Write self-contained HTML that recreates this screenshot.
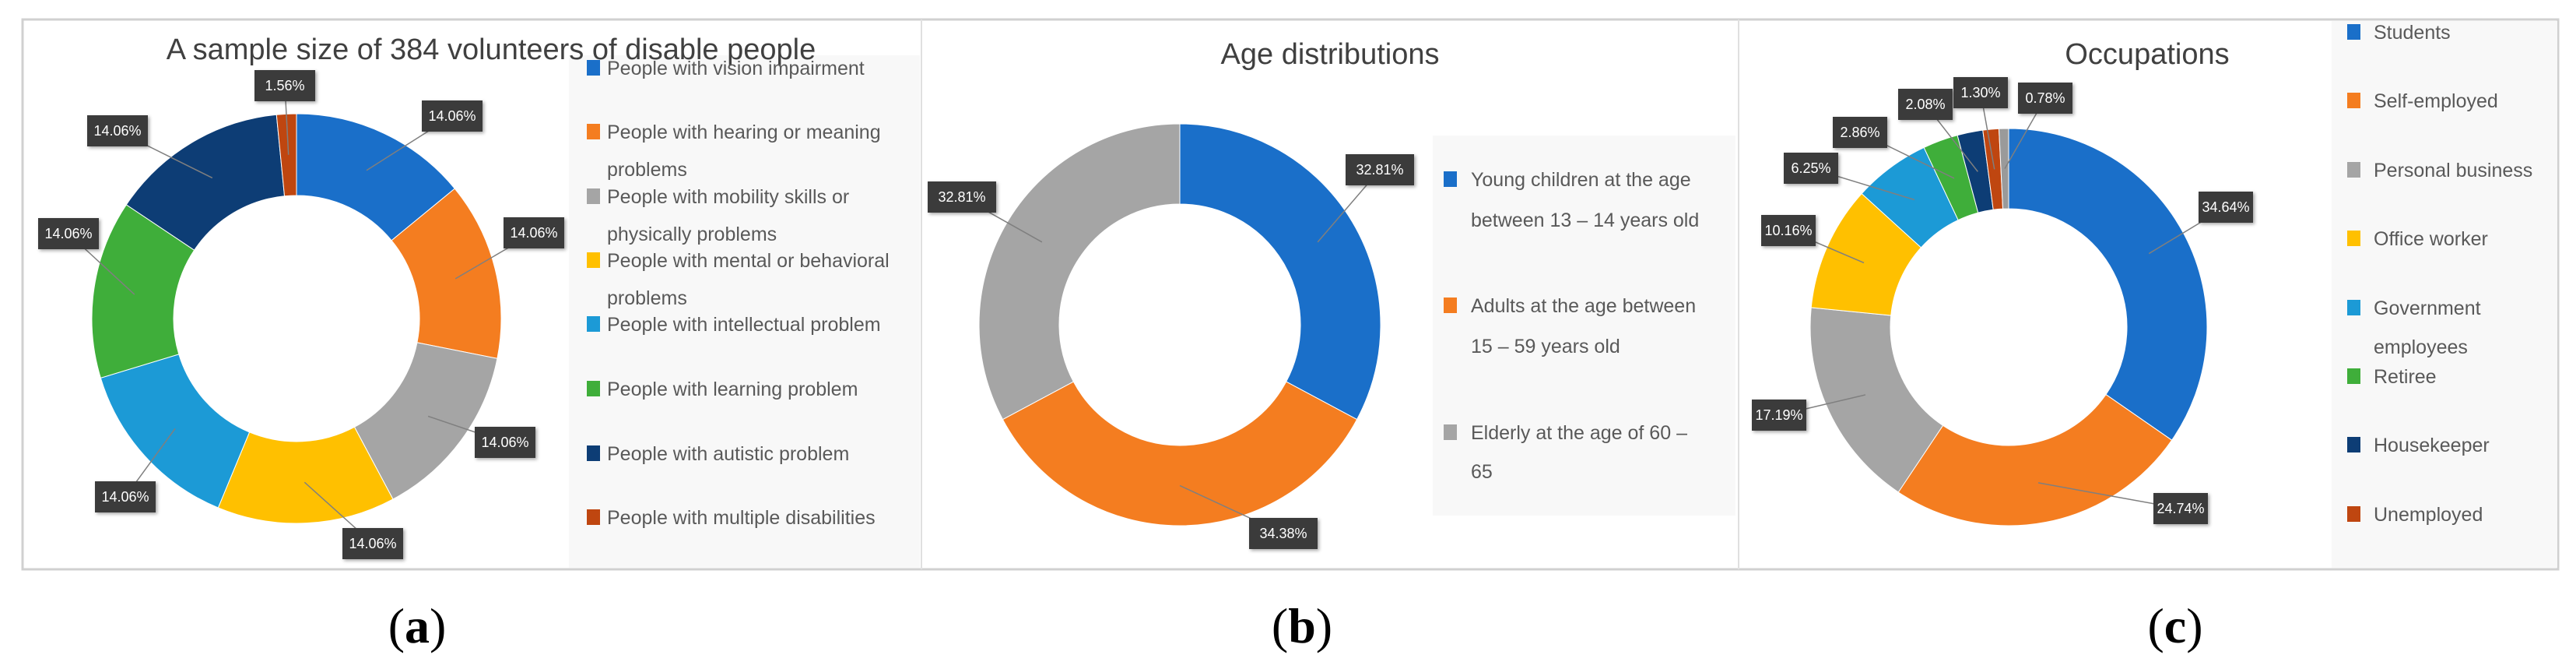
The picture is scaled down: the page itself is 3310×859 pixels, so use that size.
<!DOCTYPE html>
<html><head><meta charset="utf-8">
<style>
body{margin:0;background:#fff;}
svg{display:block;}
.lt{font-family:"Liberation Sans",sans-serif;font-size:25px;fill:#595959;}
.tt{font-family:"Liberation Sans",sans-serif;font-size:38px;fill:#404040;}
.lb{font-family:"Liberation Sans",sans-serif;font-size:18px;fill:#fff;text-anchor:middle;}
.cap{font-family:"Liberation Serif",serif;font-size:64px;fill:#000;text-anchor:middle;}
</style></head>
<body>
<svg id="svg" width="3310" height="859" viewBox="0 0 3310 859">
<defs><filter id="sh" x="-20%" y="-20%" width="150%" height="150%"><feDropShadow dx="2" dy="2" stdDeviation="2" flood-color="#000" flood-opacity="0.35"/></filter></defs>
<rect x="29" y="25" width="3258" height="706" fill="#fff" stroke="#d0d0d0" stroke-width="3"/>
<line x1="1184" y1="25" x2="1184" y2="731" stroke="#e0e0e0" stroke-width="2"/>
<line x1="2234" y1="25" x2="2234" y2="731" stroke="#e0e0e0" stroke-width="2"/>
<rect x="731" y="71" width="451" height="658" fill="#f8f8f8"/>
<rect x="1841" y="174" width="389" height="488" fill="#f8f8f8"/>
<rect x="2996" y="27" width="290" height="702" fill="#f8f8f8"/>
<text class="tt" x="631" y="76" text-anchor="middle">A sample size of 384 volunteers of disable people</text>
<text class="tt" x="1709" y="82" text-anchor="middle">Age distributions</text>
<text class="tt" x="2759" y="82" text-anchor="middle">Occupations</text>
<text class="cap" x="536" y="825">(<tspan font-weight="bold">a</tspan>)</text>
<text class="cap" x="1673" y="825">(<tspan font-weight="bold">b</tspan>)</text>
<text class="cap" x="2795" y="825">(<tspan font-weight="bold">c</tspan>)</text>
</svg>
<script>
const valuesA = [14.06,14.06,14.06,14.06,14.06,14.06,14.06,1.56];
const categoriesA = ["People with vision impairment","People with hearing or meaning|problems","People with mobility skills or|physically problems","People with mental or behavioral|problems","People with intellectual problem","People with learning problem","People with autistic problem","People with multiple disabilities"];
const valuesB = [32.81,34.38,32.81];
const categoriesB = ["Young children at the age|between 13 – 14 years old","Adults at the age between|15 – 59 years old","Elderly at the age of 60 –|65"];
const valuesC = [34.64,24.74,17.19,10.16,6.25,2.86,2.08,1.30,0.78];
const categoriesC = ["Students","Self-employed","Personal business","Office worker","Government|employees","Retiree","Housekeeper","Unemployed"];

const colors = ["#1a6fc9","#f47d20","#a5a5a5","#ffc000","#1c9ad6","#3fae3a","#0d3d75","#bf4610","#9a9a9a"];
const NS = "http://www.w3.org/2000/svg";
const svg = document.getElementById('svg');
function mk(tag, attrs){const e=document.createElementNS(NS,tag);for(const k in attrs)e.setAttribute(k,attrs[k]);svg.appendChild(e);return e;}
function pt(cx,cy,r,a){return [cx+r*Math.sin(a),cy-r*Math.cos(a)];}

function donut(id,cx,cy,R,r,vals,labelPos,boxW){
  const total=vals.reduce((s,v)=>s+v,0);
  let a0=0; const mids=[];
  vals.forEach((v,i)=>{
    const a1=a0+v/total*2*Math.PI;
    const [x0,y0]=pt(cx,cy,R,a0),[x1,y1]=pt(cx,cy,R,a1),[x2,y2]=pt(cx,cy,r,a1),[x3,y3]=pt(cx,cy,r,a0);
    const lg=(a1-a0)>Math.PI?1:0;
    const p=mk('path',{d:`M${x0},${y0}A${R},${R} 0 ${lg} 1 ${x1},${y1}L${x2},${y2}A${r},${r} 0 ${lg} 0 ${x3},${y3}Z`,fill:colors[i],stroke:'#fff','stroke-width':1});
    
    
    mids.push((a0+a1)/2); a0=a1;
  });
  vals.forEach((v,i)=>{
    const lp=labelPos[i]; if(!lp) return;
    const [mx,my]=pt(cx,cy,(R+r)/2,mids[i]);
    const ln=mk('line',{x1:mx,y1:my,x2:lp[0],y2:lp[1],stroke:'#7f7f7f','stroke-width':1.5});
    
    
    const b=mk('rect',{x:lp[0]-boxW/2,y:lp[1]-20,width:boxW,height:40,fill:'#3a3a3a',filter:'url(#sh)'});
    
    
    const t=mk('text',{x:lp[0],y:lp[1]+6,class:'lb'});
    t.textContent=v.toFixed(2)+'%';
    
    
  });
}
function legend(id,x,tx,rows,cats){
  cats.forEach((c,i)=>{
    const y=rows[i][0];
    const s=mk('rect',{x:x,y:y-10,width:17,height:20,fill:colors[i]});
    
    
    c.split('|').forEach((ln,j)=>{
      const t=mk('text',{x:tx,y:rows[i][j]+9,class:'lt'});
      t.textContent=ln;
      
      
    });
  });
}
donut('chart-a',381,409,263,158,valuesA,
 [[581,149],[686,299],[649,568],[479,698],[161,638],[88,300],[151,168],[366,110]],78);
legend('chart-a',754,780,[[87],[169,217],[252,300],[334,382],[416],[499],[582],[664]],categoriesA);
donut('chart-b',1516,417,258,155,valuesB,[[1773,218],[1649,685],[1236,253]],88);
legend('chart-b',1855,1890,[[230,282],[392,444],[555,605]],categoriesB);
donut('chart-c',2581,420,255,152,valuesC,
 [[2860,266],[2802,653],[2286,533],[2298,296],[2327,216],[2390,170],[2474,134],[2545,119],[2628,126]],70);
legend('chart-c',3016,3050,[[41],[129],[218],[306],[395,445],[483],[571],[660]],categoriesC);
</script>
</body></html>
